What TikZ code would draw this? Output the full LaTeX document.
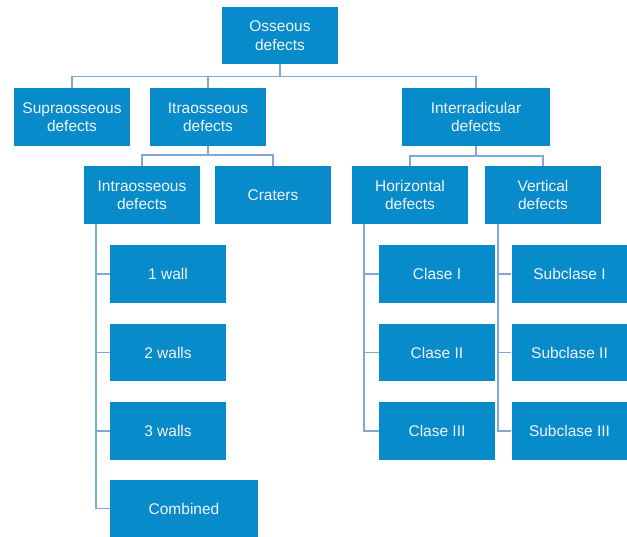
\documentclass[tikz,border=0pt]{standalone}
\usepackage{fontspec}
\setmainfont{Liberation Sans}
\usetikzlibrary{calc}
\definecolor{oblue}{HTML}{078BCA}
\definecolor{olink}{HTML}{7FA8D4}
\definecolor{otext}{HTML}{F2F6FA}

\begin{document}
\begin{tikzpicture}[
  x=1pt, y=-1pt,
  box/.style={fill=oblue, text=otext, minimum width=116pt, minimum height=57.5pt, inner sep=0pt, align=center, font=\fontsize{15.5}{18.5}\selectfont},
  wide/.style={box, minimum width=148pt},
  link/.style={draw=olink, line width=1.4pt},
]
  \useasboundingbox (0,0) rectangle (627,536);

  % top levels
  \node[box] (osseous) at (280,35.5) {Osseous\\defects};
  \node[box] (supra) at (72,117) {Supraosseous\\defects};
  \node[box] (itra) at (208,117) {Itraosseous\\defects};
  \node[wide] (inter) at (476,117) {Interradicular\\defects};

  \node[box] (intra) at (142,195) {Intraosseous\\defects};
  \node[box] (craters) at (273,195) {Craters};
  \node[box] (horiz) at (410,195) {Horizontal\\defects};
  \node[box] (vert) at (543,195) {Vertical\\defects};

  % intraosseous leaves
  \node[box] (wall1) at (168,274) {1 wall};
  \node[box] (wall2) at (168,352.5) {2 walls};
  \node[box] (wall3) at (168,431) {3 walls};
  \node[wide] (combined) at (184,508.5) {Combined};

  % horizontal / vertical leaves
  \node[box] (clase1) at (437,274) {Clase I};
  \node[box] (clase2) at (437,352.5) {Clase II};
  \node[box] (clase3) at (437,431) {Clase III};
  \node[box] (sub1) at (569.5,274) {Subclase I};
  \node[box] (sub2) at (569.5,352.5) {Subclase II};
  \node[box] (sub3) at (569.5,431) {Subclase III};

  \begin{scope}[on background layer/.try]
  \foreach \c in {supra,itra,inter}
    \draw[link] (osseous.south) -- ++(0,12) -| (\c.north);
  \foreach \c in {intra,craters}
    \draw[link] (itra.south) -- ++(0,9) -| (\c.north);
  \foreach \c in {horiz,vert}
    \draw[link] (inter.south) -- ++(0,10) -| (\c.north);

  \foreach \c in {wall1,wall2,wall3,combined}
    \draw[link] ($(intra.south west)+(12,0)$) |- (\c.west);
  \foreach \c in {clase1,clase2,clase3}
    \draw[link] ($(horiz.south west)+(12,0)$) |- (\c.west);
  \foreach \c in {sub1,sub2,sub3}
    \draw[link] ($(vert.south west)+(13,0)$) |- (\c.west);
  \end{scope}
\end{tikzpicture}
\end{document}
